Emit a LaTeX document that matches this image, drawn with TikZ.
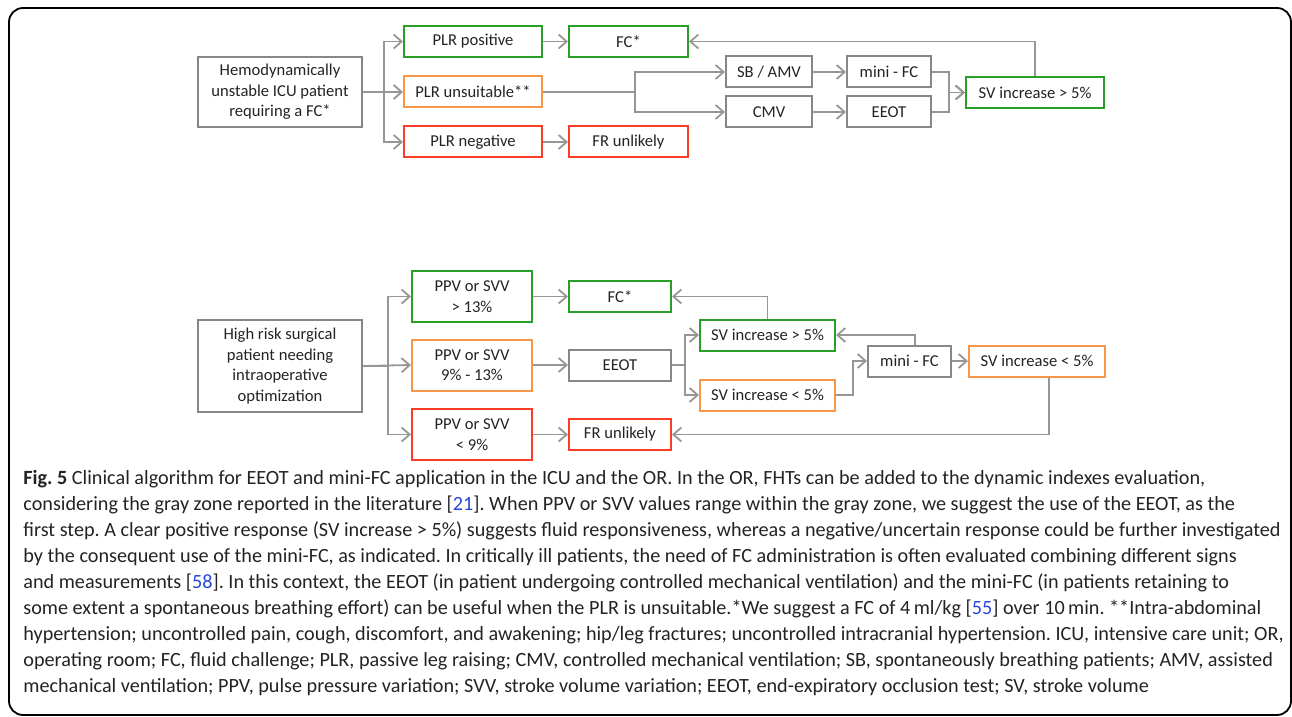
\documentclass[tikz,border=0pt]{standalone}
\usepackage{fontspec}
\setmainfont{Carlito}
\usepackage{xcolor}
\usetikzlibrary{arrows.meta,positioning}

\definecolor{boxgray}{RGB}{135,135,135}
\definecolor{linegray}{RGB}{150,150,150}
\definecolor{okgreen}{RGB}{40,160,40}
\definecolor{warnorange}{RGB}{247,150,70}
\definecolor{badred}{RGB}{250,60,40}
\definecolor{refblue}{RGB}{40,70,220}
\definecolor{txt}{RGB}{35,35,35}

\newcommand{\litref}[1]{[\textcolor{refblue}{#1}]}

\begin{document}
\frenchspacing
\begin{tikzpicture}[x=0.5pt,y=-0.5pt,
    every node/.style={font=\fontsize{8.3}{10.2}\selectfont, text=txt},
    box/.style={draw=boxgray, line width=1pt, align=center, inner sep=0pt, minimum height=15.5pt},
    gbox/.style={box, draw=okgreen},
    obox/.style={box, draw=warnorange},
    rbox/.style={box, draw=badred},
    link/.style={draw=linegray, line width=0.9pt, -{Straight Barb[length=4pt,width=7pt]}},
    caption/.style={anchor=base west, align=left, inner sep=0pt, font=\fontsize{10.1}{13}\selectfont}]
    \useasboundingbox (0,0) rectangle (1292,717);
    \draw[line width=0.9pt, rounded corners=7pt] (9,8) rectangle (1291,715);

    \node[box, minimum width=82pt, minimum height=35pt] (hemo) at (280,92) {Hemodynamically\\unstable ICU patient\\requiring a FC*};
    \node[gbox, minimum width=69pt] (plrpos) at (473,41.5) {PLR positive};
    \node[obox, minimum width=69pt] (plrun) at (473,92) {PLR unsuitable**};
    \node[rbox, minimum width=69pt] (plrneg) at (473,142) {PLR negative};
    \node[gbox, minimum width=59.5pt] (fctop) at (628.5,41.5) {FC*};
    \node[rbox, minimum width=59.5pt] (frtop) at (628.5,142) {FR unlikely};
    \node[box, minimum width=43pt] (sbamv) at (769,72) {SB / AMV};
    \node[box, minimum width=43pt] (cmv) at (769,112) {CMV};
    \node[box, minimum width=42pt] (minitop) at (889,72) {mini - FC};
    \node[box, minimum width=42pt] (eeottop) at (889,112) {EEOT};
    \node[gbox, minimum width=69pt] (svtop) at (1035,92.5) {SV increase > 5\%};

    \draw[link] (hemo.east) -- ++(21,0) |- (plrpos.west);
    \draw[link] (hemo.east) -- (plrun.west);
    \draw[link] (hemo.east) -- ++(21,0) |- (plrneg.west);
    \draw[link] (plrpos) -- (fctop);
    \draw[link] (plrneg) -- (frtop);
    \draw[link] (plrun.east) -- ++(92,0) |- (sbamv.west);
    \draw[link] (plrun.east) -- ++(92,0) |- (cmv.west);
    \draw[link] (sbamv) -- (minitop);
    \draw[link] (cmv) -- (eeottop);
    \draw[link] (minitop.east) -- ++(17,0) |- (svtop.west);
    \draw[link] (eeottop.east) -- ++(17,0) |- (svtop.west);
    \draw[link] (svtop.north) |- (fctop.east);

    \node[box, minimum width=82pt, minimum height=46pt] (risk) at (280,366) {High risk surgical\\patient needing\\intraoperative\\optimization};
    \node[gbox, minimum width=60pt, minimum height=25.5pt] (ppvhi) at (472,296.5) {PPV or SVV\\> 13\%};
    \node[obox, minimum width=60pt, minimum height=25.5pt] (ppvmid) at (472,365) {PPV or SVV\\9\% - 13\%};
    \node[rbox, minimum width=60pt, minimum height=25.5pt] (ppvlo) at (472,434.5) {PPV or SVV\\< 9\%};
    \node[gbox, minimum width=51pt] (fcbot) at (620,296.5) {FC*};
    \node[box, minimum width=51pt] (eeotbot) at (620,365) {EEOT};
    \node[rbox, minimum width=51pt] (frbot) at (620,434.5) {FR unlikely};
    \node[gbox, minimum width=67.5pt] (svgt) at (767.5,335) {SV increase > 5\%};
    \node[obox, minimum width=67.5pt] (svlt) at (767.5,395) {SV increase < 5\%};
    \node[box, minimum width=41.5pt] (minibot) at (909.5,361) {mini - FC};
    \node[obox, minimum width=68pt] (svltb) at (1037,361) {SV increase < 5\%};

    \draw[link] (risk.east) -- ++(25,0) |- (ppvhi.west);
    \draw[link] (risk.east) -- (ppvmid.west);
    \draw[link] (risk.east) -- ++(25,0) |- (ppvlo.west);
    \draw[link] (ppvhi) -- (fcbot);
    \draw[link] (ppvmid) -- (eeotbot);
    \draw[link] (ppvlo) -- (frbot);
    \draw[link] (eeotbot.east) -- ++(13,0) |- (svgt.west);
    \draw[link] (eeotbot.east) -- ++(13,0) |- (svlt.west);
    \draw[link] (svgt.north) |- (fcbot.east);
    \draw[link] (svlt.east) -- ++(17,0) |- (minibot.west);
    \draw[link] ([xshift=2.75pt]minibot.north) |- (svgt.east);
    \draw[link] (minibot) -- (svltb);
    \draw[link] ([xshift=6pt]svltb.south) |- (frbot.east);

    \node[caption] (cap) at (23,692) {\textbf{Fig. 5} Clinical algorithm for EEOT and mini-FC application in the ICU and the OR. In the OR, FHTs can be added to the dynamic indexes evaluation,\\
      considering the gray zone reported in the literature \litref{21}. When PPV or SVV values range within the gray zone, we suggest the use of the EEOT, as the\\
      first step. A clear positive response (SV increase > 5\%) suggests fluid responsiveness, whereas a negative/uncertain response could be further investigated\\
      by the consequent use of the mini-FC, as indicated. In critically ill patients, the need of FC administration is often evaluated combining different signs\\
      and measurements \litref{58}. In this context, the EEOT (in patient undergoing controlled mechanical ventilation) and the mini-FC (in patients retaining to\\
      some extent a spontaneous breathing effort) can be useful when the PLR is unsuitable.*We suggest a FC of 4\,ml/kg \litref{55} over 10\,min. **Intra-abdominal\\
      hypertension; uncontrolled pain, cough, discomfort, and awakening; hip/leg fractures; uncontrolled intracranial hypertension. ICU, intensive care unit; OR,\\
      operating room; FC, fluid challenge; PLR, passive leg raising; CMV, controlled mechanical ventilation; SB, spontaneously breathing patients; AMV, assisted\\
      mechanical ventilation; PPV, pulse pressure variation; SVV, stroke volume variation; EEOT, end-expiratory occlusion test; SV, stroke volume};
\end{tikzpicture}
\end{document}
